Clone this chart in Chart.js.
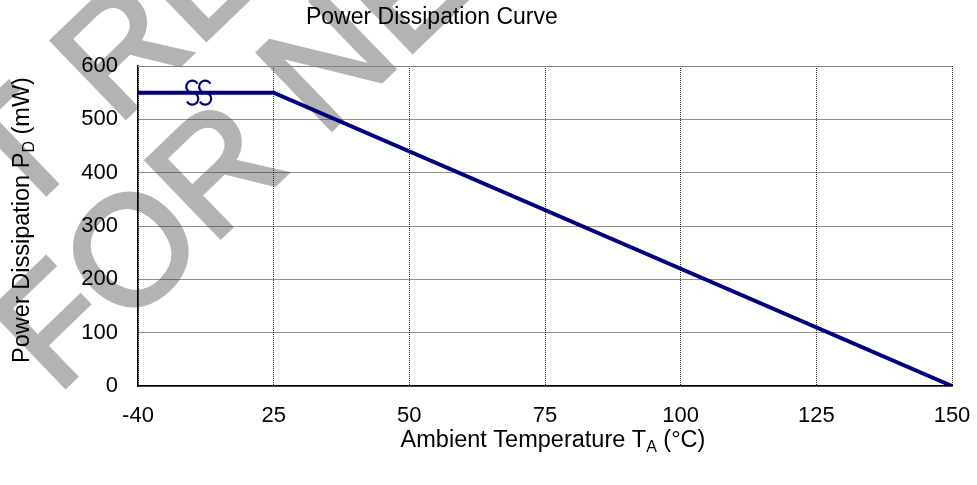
<!DOCTYPE html>
<html><head><meta charset="utf-8">
<script src="https://cdn.jsdelivr.net/npm/chart.js@4/dist/chart.umd.min.js"></script>
<style>html,body{margin:0;padding:0;background:#fff}#wrap{width:977px;height:485px;position:relative}</style>
</head><body><div id="wrap"><canvas id="c"></canvas></div>
<script>
// ---- data ----
const temperatures = ['-40', '25', '50', '75', '100', '125', '150'];
const powerMw = [550, 550, null, null, null, null, 0];
const yTickValues = [0, 100, 200, 300, 400, 500, 600];
const chartTitle = 'Power Dissipation Curve';
const xTitleParts = ['Ambient Temperature T', 'A', ' (°C)'];
const yTitleParts = ['Power Dissipation P', 'D', ' (mW)'];
const watermarkLines = ['NOT RECOMMENDED', 'FOR NEW DESIGN'];

const FONT = '"Liberation Sans", Arial, sans-serif';
const NAVY = '#00007f';

function drawSubText(ctx, parts, cx, cy, size) {
  const subSize = Math.round(size * 0.68);
  ctx.font = size + 'px ' + FONT;
  const w0 = ctx.measureText(parts[0]).width;
  const w2 = ctx.measureText(parts[2]).width;
  ctx.font = subSize + 'px ' + FONT;
  const w1 = ctx.measureText(parts[1]).width;
  let x = cx - (w0 + w1 + w2) / 2;
  ctx.textAlign = 'left';
  ctx.textBaseline = 'middle';
  ctx.fillStyle = '#000';
  ctx.font = size + 'px ' + FONT;
  ctx.fillText(parts[0], x, cy); x += w0;
  ctx.font = subSize + 'px ' + FONT;
  ctx.fillText(parts[1], x, cy + size * 0.28); x += w1;
  ctx.font = size + 'px ' + FONT;
  ctx.fillText(parts[2], x, cy);
}

const deco = {
  id: 'deco',
  beforeDraw(chart) {
    const ctx = chart.ctx;
    ctx.save();
    ctx.fillStyle = '#fff';
    ctx.fillRect(0, 0, chart.width, chart.height);
    // watermark (drawn beneath the chart)
    ctx.translate(549, -80);
    ctx.rotate(-44 * Math.PI / 180);
    ctx.font = '155px ' + FONT;
    ctx.textAlign = 'center';
    ctx.textBaseline = 'alphabetic';
    ctx.fillStyle = '#b3b3b3';
    ctx.strokeStyle = '#b3b3b3';
    ctx.lineWidth = 4;
    ctx.lineJoin = 'miter';
    ctx.fillText(watermarkLines[1], 0, 0);
    ctx.strokeText(watermarkLines[1], 0, 0);
    ctx.fillText(watermarkLines[0], -15, -152);
    ctx.strokeText(watermarkLines[0], -15, -152);
    ctx.restore();
  },
  afterDraw(chart) {
    const ctx = chart.ctx;
    const a = chart.chartArea;
    const xs = chart.scales.x, ys = chart.scales.y;
    ctx.save();
    // top frame line
    ctx.strokeStyle = '#808080';
    ctx.lineWidth = 1.2;
    ctx.beginPath();
    ctx.moveTo(a.left, a.top + 0.5);
    ctx.lineTo(a.right, a.top + 0.5);
    ctx.stroke();
    // title
    ctx.fillStyle = '#000';
    ctx.font = '23px ' + FONT;
    ctx.textAlign = 'center';
    ctx.textBaseline = 'middle';
    ctx.fillText(chartTitle, a.left + 0.361 * (a.right - a.left), 18);
    // x axis title
    drawSubText(ctx, xTitleParts, (a.left + a.right) / 2 + 8, 441, 23.5);
    // y axis title
    ctx.save();
    ctx.translate(23, (a.top + a.bottom) / 2 - 6);
    ctx.rotate(-Math.PI / 2);
    drawSubText(ctx, yTitleParts, 0, 0, 23.5);
    ctx.restore();
    // axis break symbol on the flat segment
    const x0 = xs.getPixelForValue(0), x1 = xs.getPixelForValue(1);
    const yb = ys.getPixelForValue(powerMw[0]);
    ctx.strokeStyle = NAVY;
    ctx.lineWidth = 2.2;
    [0.40, 0.495].forEach(f => {
      const cx = x0 + f * (x1 - x0);
      ctx.beginPath();
      ctx.ellipse(cx, yb - 6, 6, 6, 0, -0.5, Math.PI / 2, true);
      ctx.stroke();
      ctx.beginPath();
      ctx.ellipse(cx, yb + 6, 6, 6, 0, -Math.PI / 2, Math.PI - 0.5, false);
      ctx.stroke();
    });
    ctx.restore();
  }
};

new Chart(document.getElementById('c'), {
  type: 'line',
  data: {
    labels: temperatures,
    datasets: [{
      data: powerMw,
      borderColor: NAVY,
      borderWidth: 4,
      pointRadius: 0,
      spanGaps: true,
      tension: 0,
      fill: false
    }]
  },
  options: {
    responsive: true,
    maintainAspectRatio: false,
    animation: false,
    layout: { padding: { left: 0, right: 25, top: 66, bottom: 0 } },
    plugins: { legend: { display: false }, tooltip: { enabled: false }, title: { display: false } },
    scales: {
      x: {
        type: 'category',
        offset: false,
        grid: { color: '#222', lineWidth: 1, drawTicks: false },
        border: { display: true, color: '#000', width: 1.5, dash: [1, 1] },
        ticks: { color: '#000', font: { family: FONT, size: 22, lineHeight: 2.2 }, padding: 6, maxRotation: 0, autoSkip: false },
        afterFit(scale) { scale.height = 99; }
      },
      y: {
        min: 0, max: 600,
        afterBuildTicks(scale) { scale.ticks = yTickValues.map(v => ({ value: v })); },
        grid: { color: '#222', lineWidth: 1, drawTicks: false },
        border: { display: true, color: '#000', width: 1.5, dash: [1, 1] },
        ticks: { color: '#000', font: { family: FONT, size: 22 }, padding: 20 },
        afterFit(scale) { scale.width = 138; }
      }
    }
  },
  plugins: [deco]
});
</script>
</body></html>
